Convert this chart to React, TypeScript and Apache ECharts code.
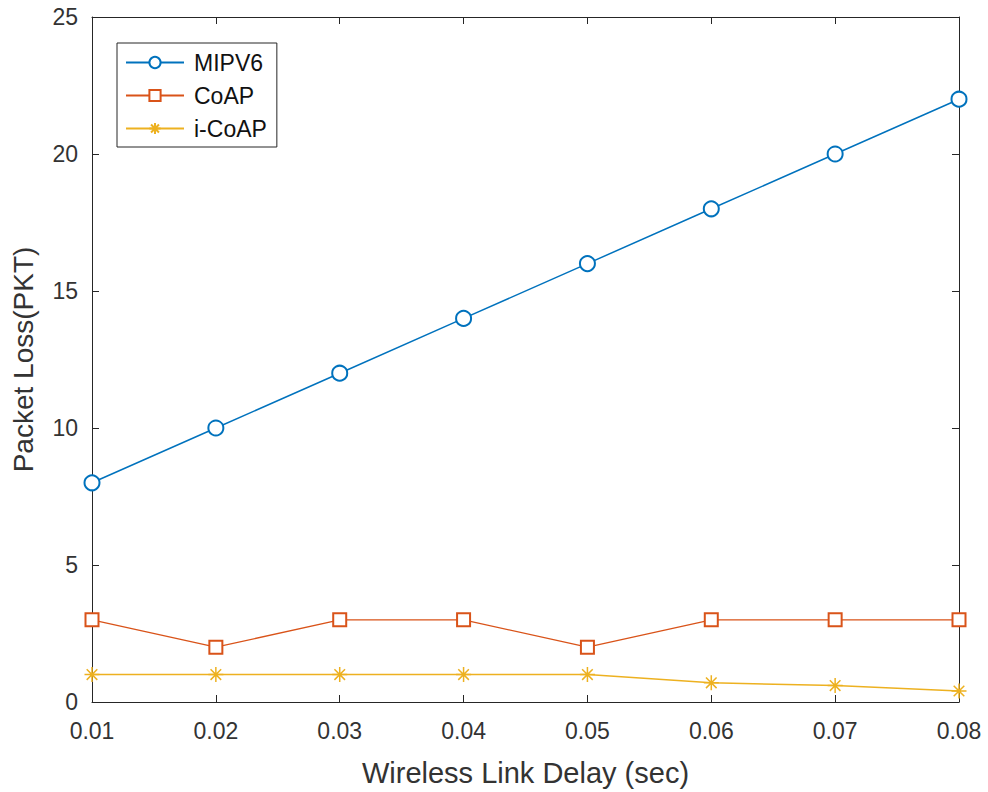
import React, { useEffect, useRef } from "react";
import * as echarts from "echarts";

const delays = [0.01, 0.02, 0.03, 0.04, 0.05, 0.06, 0.07, 0.08];
const mipv6 = [8, 10, 12, 14, 16, 18, 20, 22];
const coap = [3, 2, 3, 3, 2, 3, 3, 3];
const icoap = [1, 1, 1, 1, 1, 0.7, 0.6, 0.4];

const AX = "#262626";
const TXT = "#333333";
const FONT = "Liberation Sans, Arial, Helvetica, sans-serif";
const STAR =
  "path://M0,-1L0,1M-1,0L1,0M-0.707,-0.707L0.707,0.707M-0.707,0.707L0.707,-0.707";

export default function App() {
  const ref = useRef<HTMLDivElement>(null);
  useEffect(() => {
    if (!ref.current) return;
    const chart = echarts.init(ref.current, undefined, { renderer: "svg" });
    const pair = (xs: number[], ys: number[]) => xs.map((x, i) => [x, ys[i]]);
    const xCommon = {
      type: "value" as const,
      min: 0.01,
      max: 0.08,
      interval: 0.01,
      splitLine: { show: false },
      axisLine: { show: true, onZero: false, lineStyle: { color: AX, width: 1 } },
      axisTick: { show: true, inside: true, length: 7, lineStyle: { color: AX } },
    };
    const yCommon = {
      type: "value" as const,
      min: 0,
      max: 25,
      interval: 5,
      splitLine: { show: false },
      axisLine: { show: true, onZero: false, lineStyle: { color: AX, width: 1 } },
      axisTick: { show: true, inside: true, length: 7, lineStyle: { color: AX } },
    };
    chart.setOption({
      animation: false,
      backgroundColor: "#ffffff",
      textStyle: { fontFamily: FONT },
      grid: { left: 92, right: 29, top: 17, bottom: 89, containLabel: false },
      xAxis: [
        {
          ...xCommon,
          position: "bottom",
          name: "Wireless Link Delay (sec)",
          nameLocation: "middle",
          nameGap: 56,
          nameTextStyle: { fontSize: 29, color: TXT, fontFamily: FONT },
          axisLabel: {
            fontSize: 23,
            color: TXT,
            margin: 17,
            fontFamily: FONT,
            formatter: (v: number) => v.toFixed(2),
          },
        },
        { ...xCommon, position: "top", axisLabel: { show: false } },
      ],
      yAxis: [
        {
          ...yCommon,
          position: "left",
          name: "Packet Loss(PKT)",
          nameLocation: "middle",
          nameGap: 55,
          nameTextStyle: { fontSize: 28, color: TXT, fontFamily: FONT },
          axisLabel: { fontSize: 23, color: TXT, margin: 14, fontFamily: FONT },
        },
        { ...yCommon, position: "right", axisLabel: { show: false } },
      ],
      legend: {
        orient: "vertical",
        left: 117,
        top: 43,
        backgroundColor: "#ffffff",
        borderColor: AX,
        borderWidth: 1,
        borderRadius: 0,
        padding: [8, 10, 7, 8],
        itemWidth: 58,
        itemHeight: 14,
        itemGap: 10,
        textStyle: { fontSize: 23, color: "#111111", fontFamily: FONT, padding: [0, 0, 0, 5] },
        data: ["MIPV6", "CoAP", "i-CoAP"],
      },
      series: [
        {
          name: "MIPV6",
          type: "line",
          data: pair(delays, mipv6),
          symbol: "emptyCircle",
          symbolSize: 15,
          lineStyle: { color: "#0072BD", width: 1.5 },
          itemStyle: { color: "#0072BD", borderColor: "#0072BD", borderWidth: 1.3 },
        },
        {
          name: "CoAP",
          type: "line",
          data: pair(delays, coap),
          symbol: "emptyRect",
          symbolSize: 13,
          lineStyle: { color: "#D95319", width: 1.3 },
          itemStyle: { color: "#D95319", borderColor: "#D95319", borderWidth: 1.3 },
        },
        {
          name: "i-CoAP",
          type: "line",
          data: pair(delays, icoap),
          symbol: STAR,
          symbolSize: 15,
          lineStyle: { color: "#EDB120", width: 1.5 },
          itemStyle: { color: "#EDB120", borderColor: "#EDB120", borderWidth: 1.5 },
        },
      ],
    });
    return () => chart.dispose();
  }, []);
  return <div ref={ref} style={{ width: 988, height: 792, position: "absolute", left: 0, top: 0 }} />;
}
